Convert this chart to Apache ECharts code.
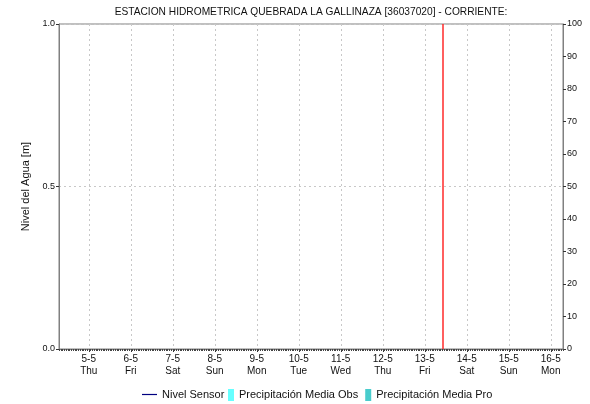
<!DOCTYPE html>
<html>
<head>
<meta charset="utf-8">
<script src="https://cdn.jsdelivr.net/npm/echarts@6/dist/echarts.min.js"></script>
<style>
html, body { margin: 0; padding: 0; background: #fff; }
#chart { width: 590px; height: 404px; }
</style>
</head>
<body>
<div id="chart"></div>
<script>
// horas desde 5-5 00:00
var dayLabels = ['5-5', '6-5', '7-5', '8-5', '9-5', '10-5', '11-5', '12-5', '13-5', '14-5', '15-5', '16-5']
var weekDays = ['Thu', 'Fri', 'Sat', 'Sun', 'Mon', 'Tue', 'Wed', 'Thu', 'Fri', 'Sat', 'Sun', 'Mon']
var dayTicks = [0, 24, 48, 72, 96, 120, 144, 168, 192, 216, 240, 264]
var nivelSensor = []
var precipObs = []
var precipPro = []
var marcaActual = [202]

var font = 'Liberation Sans, Arial, sans-serif'
var chart = echarts.init(document.getElementById('chart'))

chart.setOption({
  backgroundColor: '#FFFFFF',
  animation: false,
  title: {
    text: 'ESTACION HIDROMETRICA QUEBRADA LA GALLINAZA [36037020] - CORRIENTE:',
    left: 306,
    textAlign: 'center',
    top: 2,
    textStyle: { fontFamily: font, fontSize: 10.2, fontWeight: 'normal', color: '#111' }
  },
  legend: [{
    left: 137,
    top: 384,
    itemWidth: 15,
    itemHeight: 12,
    textStyle: { fontFamily: font, fontSize: 11, color: '#111' },
    data: [{ name: 'Nivel Sensor', icon: 'path://M0,0h15v1.2h-15z' }]
  }, {
    left: 223,
    top: 384,
    itemWidth: 6,
    itemHeight: 12,
    itemGap: 7,
    textStyle: { fontFamily: font, fontSize: 11, color: '#111' },
    data: [{ name: 'Precipitación Media Obs', icon: 'rect' }, { name: 'Precipitación Media Pro', icon: 'rect' }]
  }],
  grid: {
    left: 59,
    right: 27,
    top: 24,
    bottom: 55,
    show: true,
    borderColor: '#808080',
    borderWidth: 1
  },
  xAxis: [{
    type: 'value',
    min: -17,
    max: 271,
    axisLine: { onZero: false, lineStyle: { color: '#808080' } },
    axisTick: { show: true, customValues: dayTicks, length: 3, lineStyle: { color: '#333' } },
    axisLabel: {
      customValues: dayTicks,
      margin: 4,
      fontFamily: font,
      fontSize: 10,
      lineHeight: 12,
      color: '#111',
      formatter: function (v) {
        var i = Math.round(v / 24)
        return dayLabels[i] + '\n' + weekDays[i]
      }
    },
    splitLine: { show: true, lineStyle: { color: '#c8c8c8', type: [2, 3] } }
  }, {
    type: 'value',
    min: -17,
    max: 271,
    interval: 1,
    position: 'bottom',
    axisLine: { show: false, onZero: false },
    axisTick: { show: true, length: 2, lineStyle: { color: '#444' } },
    axisLabel: { show: false },
    splitLine: { show: false }
  }],
  yAxis: [{
    type: 'value',
    min: 0,
    max: 1,
    interval: 0.5,
    position: 'left',
    name: 'Nivel del Agua [m]',
    nameLocation: 'middle',
    nameGap: 19,
    nameTextStyle: { fontFamily: font, fontSize: 11, color: '#111' },
    axisLine: { show: true, onZero: false, lineStyle: { color: '#808080' } },
    axisTick: { show: true, length: 3, lineStyle: { color: '#333' } },
    axisLabel: {
      margin: 4,
      fontFamily: font,
      fontSize: 9,
      color: '#111',
      formatter: function (v) { return v.toFixed(1) }
    },
    splitLine: { show: true, lineStyle: { color: '#c8c8c8', type: [2, 3] } }
  }, {
    type: 'value',
    min: 0,
    max: 100,
    interval: 10,
    position: 'right',
    axisLine: { show: true, onZero: false, lineStyle: { color: '#808080' } },
    axisTick: { show: true, length: 3, lineStyle: { color: '#333' } },
    axisLabel: { margin: 4, fontFamily: font, fontSize: 9, color: '#111' },
    splitLine: { show: false }
  }],
  series: [{
    name: 'Nivel Sensor',
    type: 'line',
    symbol: 'none',
    xAxisIndex: 0,
    yAxisIndex: 0,
    itemStyle: { color: '#000080' },
    lineStyle: { color: '#000080', width: 1 },
    data: nivelSensor
  }, {
    name: 'Precipitación Media Obs',
    type: 'bar',
    xAxisIndex: 0,
    yAxisIndex: 1,
    itemStyle: { color: '#66ffff' },
    data: precipObs
  }, {
    name: 'Precipitación Media Pro',
    type: 'bar',
    xAxisIndex: 0,
    yAxisIndex: 1,
    itemStyle: { color: '#48cccc' },
    data: precipPro
  }, {
    name: 'Actual',
    type: 'line',
    xAxisIndex: 0,
    yAxisIndex: 0,
    data: [],
    markLine: {
      silent: true,
      symbol: 'none',
      label: { show: false },
      lineStyle: { color: '#ff2a2a', width: 1.5, type: 'solid' },
      data: marcaActual.map(function (t) { return { xAxis: t } })
    }
  }]
})
</script>
</body>
</html>
